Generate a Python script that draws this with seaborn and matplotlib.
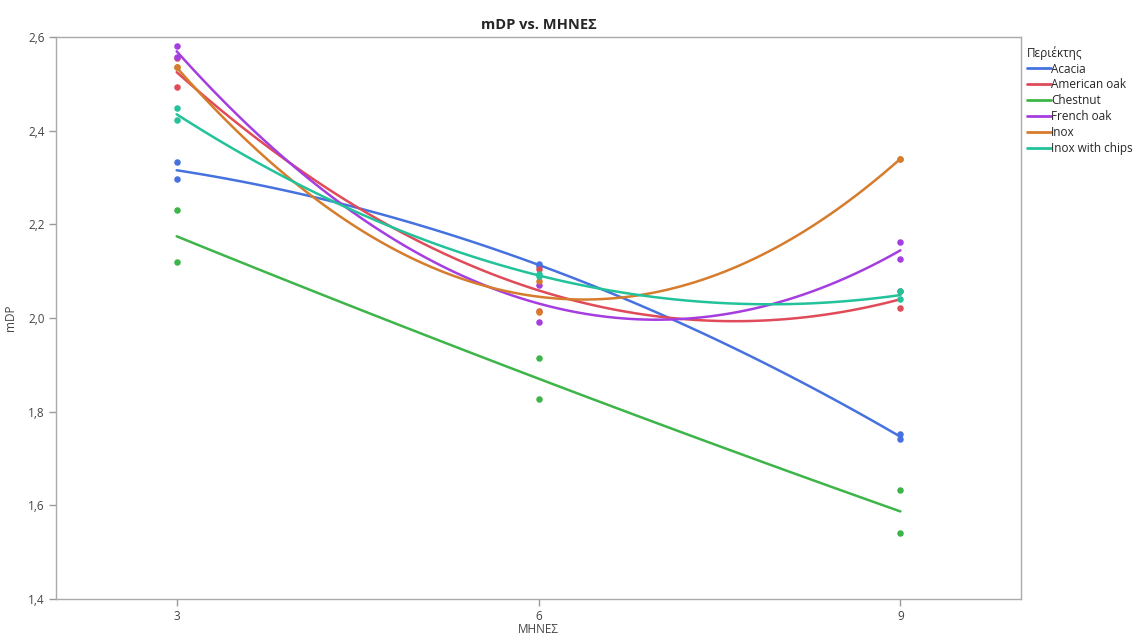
import numpy as np
import pandas as pd
import matplotlib
matplotlib.use("Agg")
import matplotlib.pyplot as plt
from matplotlib.ticker import FuncFormatter
from matplotlib.lines import Line2D
import seaborn as sns

sns.set_style("white")
plt.rcParams['font.family'] = ['Open Sans', 'DejaVu Sans']

months = [3, 3, 6, 6, 9, 9]
acacia = [2.334, 2.297, 2.115, 2.112, 1.752, 1.741]
american_oak = [2.494, 2.556, 2.104, 2.014, 2.022, 2.058]
chestnut = [2.230, 2.119, 1.915, 1.826, 1.633, 1.541]
french_oak = [2.581, 2.558, 2.070, 1.992, 2.162, 2.127]
inox = [2.535, 2.535, 2.078, 2.013, 2.340, 2.340]
inox_chips = [2.448, 2.422, 2.093, 2.089, 2.058, 2.040]

series_names = ["Acacia", "American oak", "Chestnut", "French oak", "Inox", "Inox with chips"]
series_values = [acacia, american_oak, chestnut, french_oak, inox, inox_chips]
colors = ["#4672E0", "#E04B5A", "#3DB548", "#A53EE0", "#D67C2C", "#22C29A"]

x_ticks = [3, 6, 9]
y_ticks = [1.4, 1.6, 1.8, 2.0, 2.2, 2.4, 2.6]

rows = []
for name, vals in zip(series_names, series_values):
    for m, v in zip(months, vals):
        rows.append({"ΜΗΝΕΣ": m, "mDP": v, "Περιέκτης": name})
df = pd.DataFrame(rows)

fig = plt.figure(figsize=(11.37, 6.35), dpi=100)
ax = fig.add_axes([0.0493, 0.0567, 0.8487, 0.885])

for name, col in zip(series_names, colors):
    sub = df[df["Περιέκτης"] == name]
    sns.regplot(data=sub, x="ΜΗΝΕΣ", y="mDP", order=2, ci=None, ax=ax,
                color=col, truncate=True,
                scatter_kws={"s": 22, "alpha": 1, "linewidths": 0, "zorder": 3},
                line_kws={"lw": 1.8, "zorder": 2})

ax.set_xlim(2, 10)
ax.set_ylim(1.4, 2.6)
ax.set_xticks(x_ticks)
ax.set_yticks(y_ticks)
ax.yaxis.set_major_formatter(FuncFormatter(lambda v, p: f"{v:.1f}".replace(".", ",")))
ax.tick_params(axis="both", direction="out", length=5, width=1, color="#999999",
               labelsize=8.5, labelcolor="#444444", left=True, bottom=True, pad=3)
for s in ax.spines.values():
    s.set_color("#aaaaaa")
    s.set_linewidth(1)
ax.set_xlabel("ΜΗΝΕΣ", fontsize=8.5, color="#444444", labelpad=0)
ax.set_ylabel("mDP", fontsize=8.5, color="#444444", labelpad=8)
ax.set_title("mDP vs. ΜΗΝΕΣ", fontsize=10.5, fontweight="bold", pad=6)

handles = [Line2D([0], [0], color=c, lw=2) for c in colors]
leg = ax.legend(handles, series_names, title="Περιέκτης", loc="upper left",
                bbox_to_anchor=(1.0, 0.995), frameon=False, fontsize=8.5,
                title_fontsize=8.5, handlelength=2.0, handletextpad=0.05,
                labelspacing=0.25, borderaxespad=0.2, borderpad=0.3)
leg._legend_box.align = "left"

fig.savefig("out.png", dpi=100)
